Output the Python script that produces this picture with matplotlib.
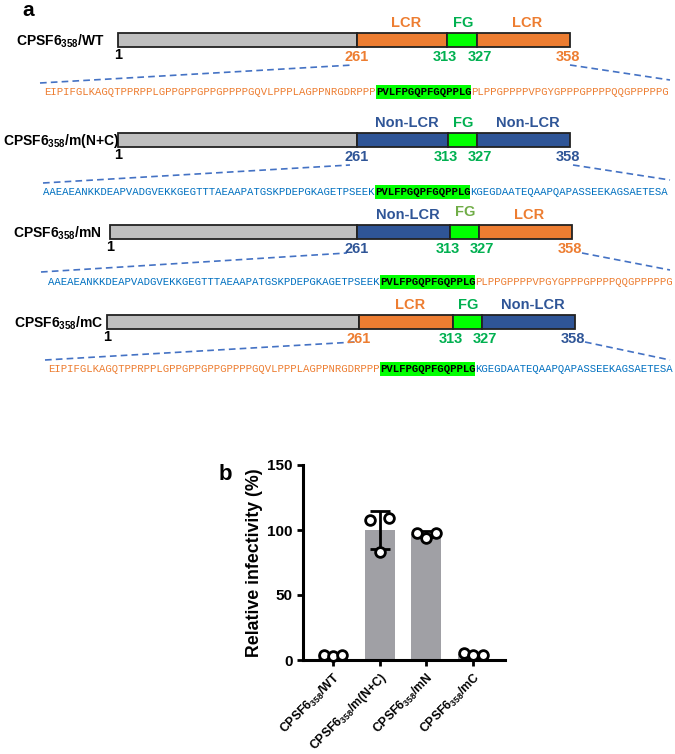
import matplotlib
matplotlib.use('Agg')
import matplotlib.pyplot as plt
from matplotlib.patches import Rectangle

plt.rcParams['font.family'] = ['Liberation Sans', 'DejaVu Sans']
plt.rcParams['font.weight'] = 'bold'
plt.rcParams['mathtext.fontset'] = 'custom'
plt.rcParams['mathtext.rm'] = 'Liberation Sans:bold'
plt.rcParams['mathtext.it'] = 'Liberation Sans:bold'
plt.rcParams['mathtext.bf'] = 'Liberation Sans:bold'

# ---- data ----
constructs = ['CPSF6$_{358}$/WT', 'CPSF6$_{358}$/m(N+C)', 'CPSF6$_{358}$/mN', 'CPSF6$_{358}$/mC']
n_region = ['LCR', 'Non-LCR', 'Non-LCR', 'LCR']
c_region = ['LCR', 'Non-LCR', 'LCR', 'Non-LCR']
boundaries = ['1', '261', '313', '327', '358']

lcr_n = 'EIPIFGLKAGQTPPRPPLGPPGPPGPPGPPPPGQVLPPPLAGPPNRGDRPPP'
non_n = 'AAEAEANKKDEAPVADGVEKKGEGTTTAEAAPATGSKPDEPGKAGETPSEEK'
fg_seq = 'PVLFPGQPFGQPPLG'
lcr_c = 'PLPPGPPPPVPGYGPPPGPPPPQQGPPPPPG'
non_c = 'KGEGDAATEQAAPQAPASSEEKAGSAETESA'
n_seq = [lcr_n, non_n, non_n, lcr_n]
c_seq = [lcr_c, non_c, lcr_c, non_c]

infect_mean = [3.7, 100.0, 96.7, 4.3]
infect_sd = [0.5, 14.7, 2.3, 1.0]
infect_reps = [[4.0, 3.0, 4.0], [108.0, 83.0, 109.0], [98.0, 94.0, 98.0], [5.5, 3.5, 4.0]]

# ---- layout (pixels) ----
bar_top = [33, 133, 225, 315]
bar_x0 = [118, 118, 110, 107]
bar_x1 = [570, 570, 572, 575]
breaks = [(357, 447, 477), (357, 448, 477), (357, 450, 479), (359, 453, 482)]
name_xy = [(16, 41), (3, 141), (13, 233), (14, 323)]
dash_l = [((40, 83), (353, 65)), ((43, 183), (350, 165)), ((41, 272), (347, 253)), ((45, 360), (355, 342))]
dash_r = [((570, 65), (670, 80)), ((573, 165), (670, 180)), ((582, 253), (670, 270)), ((585, 342), (670, 360))]
seq_xy = [(44, 92), (43, 192), (48, 282), (48, 369)]
bar_h = 14
char_w = 6.38

ORANGE = '#ED7D31'
NAVY = '#2F5597'
SEQBLUE = '#0070C0'
FGBOX = '#00FF00'
FGTXT = '#00B050'
GRAY = '#BFBFBF'
DASH = '#4472C4'
box_col = {'LCR': ORANGE, 'Non-LCR': NAVY}
seq_col = {'LCR': ORANGE, 'Non-LCR': SEQBLUE}

fig = plt.figure(figsize=(6.75, 7.54), dpi=100)
ax = fig.add_axes([0, 0, 1, 1])
ax.set_xlim(0, 675)
ax.set_ylim(754, 0)
ax.axis('off')

ax.text(28, 11, 'a', fontsize=15, fontweight='bold', ha='center', va='center')

for i in range(4):
    y0 = bar_top[i]
    b1, b2, b3 = breaks[i]
    segs = [(bar_x0[i], b1, GRAY), (b1, b2, box_col[n_region[i]]),
            (b2, b3, FGBOX), (b3, bar_x1[i], box_col[c_region[i]])]
    for xa, xb, col in segs:
        ax.add_patch(Rectangle((xa, y0), xb - xa, bar_h, facecolor=col,
                               edgecolor='#222222', lw=1.3, zorder=2))
    # region labels
    ax.text((b1 + b2) / 2 + 4, y0 - 10, n_region[i], color=box_col[n_region[i]],
            fontsize=10.5, ha='center', va='center')
    ax.text((b2 + b3) / 2 + 1, y0 - (13 if i == 2 else 10), 'FG',
            color='#70AD47' if i == 2 else FGTXT, fontsize=10.5, ha='center', va='center')
    ax.text((b3 + bar_x1[i]) / 2 + 4, y0 - 10, c_region[i], color=box_col[c_region[i]],
            fontsize=10.5, ha='center', va='center')
    # boundary numbers
    yb = y0 + bar_h + 10
    ax.text(bar_x0[i], y0 + bar_h + 1, boundaries[0], fontsize=10.5, ha='center', va='top')
    ax.text(b1, yb, boundaries[1], color=box_col[n_region[i]], fontsize=10.5, ha='center', va='center')
    ax.text(b2 - 2, yb, boundaries[2], color=FGTXT, fontsize=10.5, ha='center', va='center')
    ax.text(b3 + 3, yb, boundaries[3], color=FGTXT, fontsize=10.5, ha='center', va='center')
    ax.text(bar_x1[i] - 2, yb, boundaries[4], color=box_col[c_region[i]], fontsize=10.5, ha='center', va='center')
    # construct name
    ax.text(name_xy[i][0], name_xy[i][1], constructs[i], fontsize=10, ha='left', va='center')
    # dashed zoom lines
    for (p, q) in (dash_l[i], dash_r[i]):
        ax.plot([p[0], q[0]], [p[1], q[1]], ls=(0, (4, 2.5)), color=DASH, lw=1.2)
    # sequence
    sx, sy = seq_xy[i]
    n1 = len(n_seq[i])
    n2 = len(fg_seq)
    ax.add_patch(Rectangle((sx + n1 * char_w, sy - 7), n2 * char_w, 14,
                           facecolor=FGBOX, edgecolor='none', zorder=1))
    ax.text(sx, sy, n_seq[i], family='Liberation Mono', fontweight='normal', fontsize=7.65,
            color=seq_col[n_region[i]], ha='left', va='center')
    ax.text(sx + n1 * char_w, sy, fg_seq, family='Liberation Mono', fontweight='bold', fontsize=7.65,
            color='black', ha='left', va='center', zorder=3)
    ax.text(sx + (n1 + n2) * char_w, sy, c_seq[i], family='Liberation Mono', fontweight='normal',
            fontsize=7.65, color=seq_col[c_region[i]], ha='left', va='center')

# ---- panel b ----
axb = fig.add_axes([303 / 675, 1 - 660 / 754, (505 - 303) / 675, (660 - 465) / 754])
xpos = list(range(len(constructs)))
axb.bar(xpos, infect_mean, width=0.64, color='#A0A0A5', zorder=1)
axb.errorbar(xpos, infect_mean, yerr=infect_sd, fmt='none', ecolor='black',
             elinewidth=2, capsize=7, capthick=2, zorder=2)
offsets = [-0.2, 0.0, 0.2]
for xi, reps in zip(xpos, infect_reps):
    axb.plot([xi + o for o in offsets], reps, 'o', mfc='white', mec='black',
             ms=7, mew=2, zorder=3, clip_on=False)
axb.set_xlim(-0.64, 3.68)
axb.set_ylim(0, 150)
axb.set_yticks([0, 50, 100, 150])
axb.set_xticks(xpos)
axb.set_xticklabels(constructs, rotation=45, ha='right', va='top', rotation_mode='anchor',
                    fontsize=8.8)
for lab in axb.get_yticklabels():
    lab.set_fontsize(11)
axb.set_ylabel('Relative infectivity (%)', fontsize=12.8, labelpad=3)
axb.spines['top'].set_visible(False)
axb.spines['right'].set_visible(False)
axb.spines['left'].set_linewidth(2.2)
axb.spines['bottom'].set_linewidth(2.2)
axb.tick_params(width=2, length=4)
axb.yaxis.label.set_fontweight('bold')

fig.text(225 / 675, 1 - 475 / 754, 'b', fontsize=16, fontweight='bold', ha='center', va='center')

fig.savefig('out.png', dpi=100)
